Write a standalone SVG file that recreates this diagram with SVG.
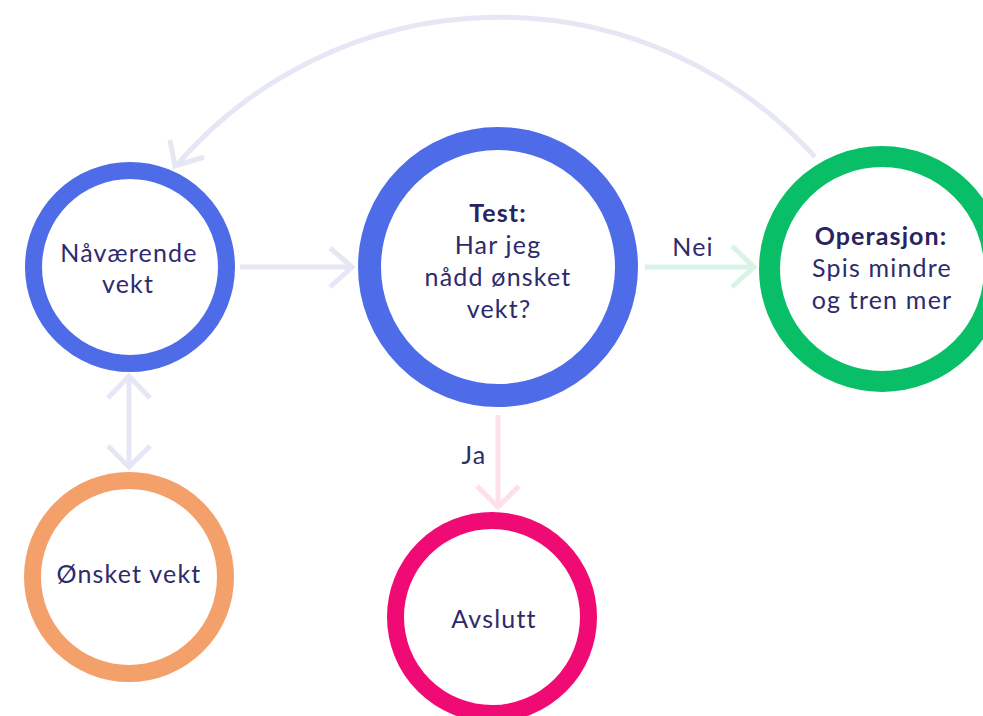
<svg xmlns="http://www.w3.org/2000/svg" width="983" height="716" viewBox="0 0 983 716">
  <style>
    .ring { fill: #ffffff; }
    .lbl { font-family: Lato, "Noto Sans", sans-serif; font-size: 25px; font-weight: 400; letter-spacing: 1.2px; fill: #2e2b6b; text-anchor: middle; }
    .bold { font-weight: 700; letter-spacing: 1.1px; fill: #27245e; }
    .edge { fill: none; stroke-width: 5; stroke-linejoin: miter; }
    .grey { stroke: #e5e7f5; }
    .mint { stroke: #d9f3e6; }
    .rose { stroke: #fde0eb; }
  </style>
  <rect width="983" height="716" fill="#ffffff"/>

  <g id="connectors">
    <!-- loop back from Operasjon to Nåværende vekt -->
    <path class="edge grey" d="M815,157 A426,426 0 0 0 176,166"/>
    <polyline class="edge grey" points="170,140 175,166 204,157"/>
    <!-- Nåværende vekt -> Test -->
    <line class="edge grey" x1="240" y1="267" x2="351" y2="267"/>
    <polyline class="edge grey" points="330,248 352,267 330,287"/>
    <!-- Test -> Operasjon (Nei) -->
    <line class="edge mint" x1="645" y1="267" x2="753" y2="267"/>
    <polyline class="edge mint" points="732,246 754,267 732,287"/>
    <!-- Nåværende vekt <-> Ønsket vekt -->
    <line class="edge grey" x1="129" y1="377" x2="129" y2="466"/>
    <polyline class="edge grey" points="108,398 129,376 150,398"/>
    <polyline class="edge grey" points="108,446 129,467 150,446"/>
    <!-- Test -> Avslutt (Ja) -->
    <line class="edge rose" x1="498" y1="415" x2="498" y2="506"/>
    <polyline class="edge rose" points="477,486 498,507 519,486"/>
    <text class="lbl" x="693" y="256">Nei</text>
    <text class="lbl" x="474" y="464">Ja</text>
  </g>

  <g id="naavaerende">
    <circle class="ring" cx="130" cy="267" r="96.5" stroke="#4f6ce8" stroke-width="17"/>
    <text class="lbl" x="129" y="262">Nåværende</text>
    <text class="lbl" x="128" y="293">vekt</text>
  </g>

  <g id="test">
    <circle class="ring" cx="498" cy="267" r="128.5" stroke="#4f6ce8" stroke-width="23"/>
    <text class="lbl bold" x="498" y="222">Test:</text>
    <text class="lbl" x="498" y="254">Har jeg</text>
    <text class="lbl" x="498" y="286">nådd ønsket</text>
    <text class="lbl" x="499" y="318">vekt?</text>
  </g>

  <g id="operasjon">
    <circle class="ring" cx="882" cy="269" r="112.5" stroke="#08bf68" stroke-width="21"/>
    <text class="lbl bold" x="881" y="245">Operasjon:</text>
    <text class="lbl" x="882" y="277">Spis mindre</text>
    <text class="lbl" x="882" y="309">og tren mer</text>
  </g>

  <g id="onsket">
    <circle class="ring" cx="129" cy="577" r="96.5" stroke="#f3a06a" stroke-width="17"/>
    <text class="lbl" x="129" y="583">Ønsket vekt</text>
  </g>

  <g id="avslutt">
    <circle class="ring" cx="492" cy="617" r="96.5" stroke="#f00a74" stroke-width="17"/>
    <text class="lbl" x="494" y="628">Avslutt</text>
  </g>
</svg>
